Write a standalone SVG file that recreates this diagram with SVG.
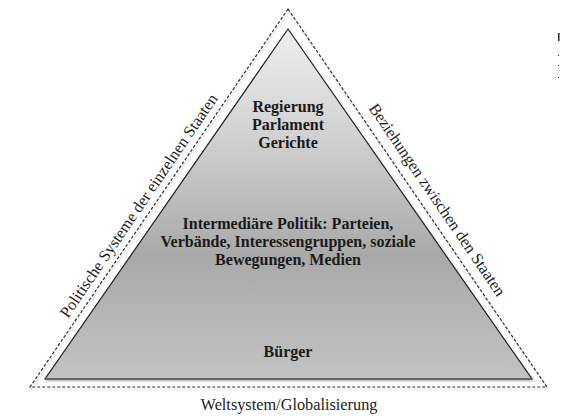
<svg xmlns="http://www.w3.org/2000/svg" width="561" height="418" viewBox="0 0 561 418">
<style>
.lbl{font-family:"Liberation Serif","DejaVu Serif",serif;font-weight:bold;font-size:16px;fill:#1a1a1a;text-anchor:middle}
.side{font-family:"Liberation Serif","DejaVu Serif",serif;font-size:16.3px;fill:#222;text-anchor:middle}
.outer{fill:none;stroke:#333;stroke-width:1.2;stroke-dasharray:3 2}
.inner{stroke:#222;stroke-width:1.2}
</style>
<defs>
<linearGradient id="g" x1="0" y1="0" x2="0" y2="1">
<stop offset="0" stop-color="#eeeeee"/>
<stop offset="0.3" stop-color="#d2d2d2"/>
<stop offset="0.65" stop-color="#a9a9a9"/>
<stop offset="1" stop-color="#c3c3c3"/>
</linearGradient>
<filter id="sh" x="-10%" y="-10%" width="120%" height="120%">
<feDropShadow dx="1" dy="2" stdDeviation="1.2" flood-color="#000" flood-opacity="0.25"/>
</filter>
</defs>
<rect width="561" height="418" fill="#fff"/>
<g id="outer-triangle">
<polygon class="outer" points="288,9 547,387 30,387" filter="url(#sh)"/>
</g>
<g id="inner-triangle">
<polygon class="inner" points="288,29 532,379 45,379" fill="url(#g)" filter="url(#sh)"/>
<line x1="45" y1="379" x2="532" y2="379" stroke="#666" stroke-width="2"/>
</g>
<g id="top">
<text class="lbl" x="288" y="112">Regierung</text>
<text class="lbl" x="288" y="130">Parlament</text>
<text class="lbl" x="288" y="148">Gerichte</text>
</g>
<g id="middle">
<text class="lbl" x="288" y="229">Intermediäre Politik: Parteien,</text>
<text class="lbl" x="288" y="247">Verbände, Interessengruppen, soziale</text>
<text class="lbl" x="288" y="265">Bewegungen, Medien</text>
</g>
<g id="bottom">
<text class="lbl" x="288" y="357">Bürger</text>
</g>
<g id="left-label">
<text class="side" transform="translate(139,206) rotate(-55.7)" x="0" y="5">Politische Systeme der einzelnen Staaten</text>
</g>
<g id="right-label">
<text class="side" transform="translate(437,200) rotate(55.7)" x="0" y="5">Beziehungen zwischen den Staaten</text>
</g>
<g id="base-label">
<text class="side" x="289" y="410">Weltsystem/Globalisierung</text>
</g>
<g id="edge-marks" fill="#222">
<rect x="558" y="33" width="1.5" height="8"/>
<rect x="558" y="55" width="1" height="1"/>
<rect x="558" y="65" width="1" height="1"/>
<rect x="558" y="77" width="1" height="1"/>
</g>
</svg>
